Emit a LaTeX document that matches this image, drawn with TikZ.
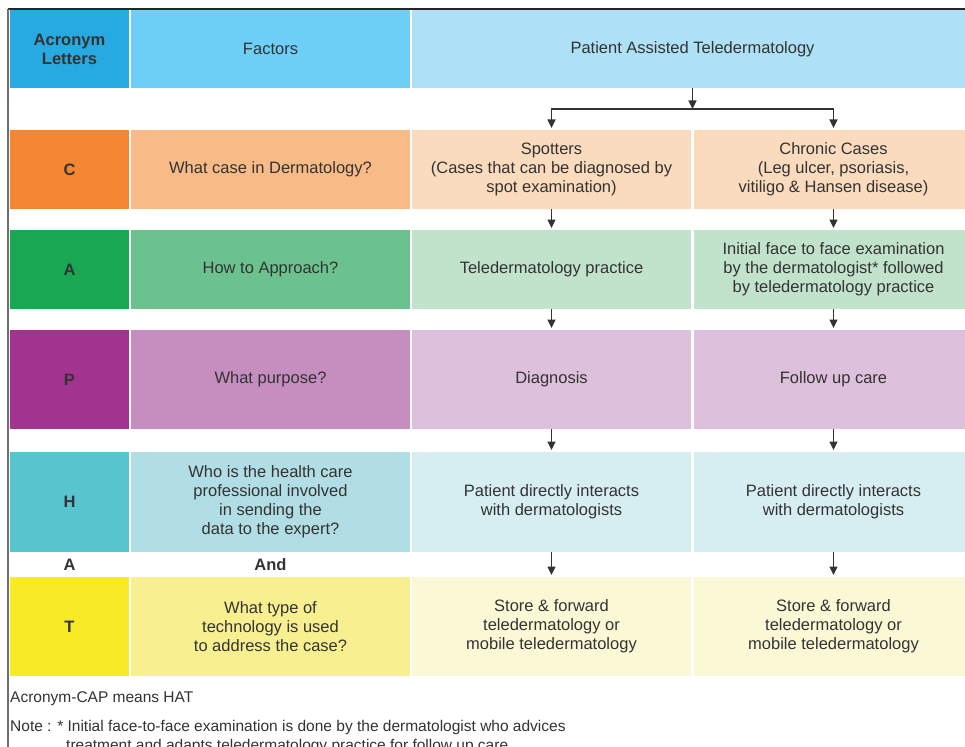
\documentclass[tikz,border=0pt]{standalone}
\usepackage{fontspec}
\setmainfont{Liberation Sans}
\usetikzlibrary{arrows.meta}

% header
\definecolor{hdA}{HTML}{27A9E1}
\definecolor{hdB}{HTML}{6DCFF6}
\definecolor{hdC}{HTML}{AEE0F6}
% C row
\definecolor{cA}{HTML}{F58634}
\definecolor{cB}{HTML}{F8BB87}
\definecolor{cC}{HTML}{FBDBBD}
% A row
\definecolor{aA}{HTML}{18A853}
\definecolor{aB}{HTML}{6CC28E}
\definecolor{aC}{HTML}{C2E3CB}
% P row
\definecolor{pA}{HTML}{A2338E}
\definecolor{pB}{HTML}{C58EBF}
\definecolor{pC}{HTML}{DDC0DB}
% H row
\definecolor{hA}{HTML}{58C4CE}
\definecolor{hB}{HTML}{B1DEE4}
\definecolor{hC}{HTML}{D6EEF2}
% T row
\definecolor{tA}{HTML}{F6EB24}
\definecolor{tB}{HTML}{F8F090}
\definecolor{tC}{HTML}{FBF9D5}

\definecolor{ink}{HTML}{333333}
\definecolor{frame}{HTML}{6E6E6E}

\tikzset{
  cell/.style={inner sep=0pt, outer sep=0pt, anchor=north west, align=center,
    text=ink, font=\fontsize{16.5}{19}\selectfont},
  lettercell/.style={cell, minimum width=119pt, font=\fontsize{16.5}{19}\selectfont\bfseries},
  factorcell/.style={cell, minimum width=279pt},
  casecell/.style={cell, minimum width=279pt},
  wide/.style={cell, minimum width=561pt},
  conn/.style={draw=ink, line width=1.1pt},
  arr/.style={conn, -{Triangle[width=8pt,length=8.5pt]}, shorten >=2pt},
  plain/.style={text=ink, inner sep=0pt, font=\fontsize{16.5}{19}\selectfont\bfseries},
  foot/.style={text=ink, inner sep=0pt, anchor=west, align=left, font=\fontsize{15.5}{19}\selectfont},
}

\begin{document}
\begin{tikzpicture}[x=1pt,y=-1pt]
\useasboundingbox (0,0) rectangle (965,746);
\clip (0,0) rectangle (965,746);
\fill[white] (0,0) rectangle (965,746);

% outer frame lines
\draw[line width=1.4pt, draw=black!85] (8,9) -- (966,9);
\draw[line width=1.6pt, draw=frame] (8,9) -- (8,747);

% header row
\node[lettercell, fill=hdA, minimum height=78pt] (hd1) at (10,10) {Acronym\\Letters};
\node[factorcell, fill=hdB, minimum height=78pt] (hd2) at (131,10) {Factors};
\node[wide, fill=hdC, minimum height=78pt] (hd3) at (412,10) {Patient Assisted Teledermatology};

% C row
\node[lettercell, fill=cA, minimum height=79pt] (c1) at (10,130) {C};
\node[factorcell, fill=cB, minimum height=79pt] (c2) at (131,130) {What case in Dermatology?};
\node[casecell, fill=cC, minimum height=79pt] (c3) at (412,130) {Spotters\\(Cases that can be diagnosed by\\spot examination)};
\node[casecell, fill=cC, minimum height=79pt] (c4) at (694,130) {Chronic Cases\\(Leg ulcer, psoriasis,\\vitiligo \& Hansen disease)};

% A row
\node[lettercell, fill=aA, minimum height=79pt] (a1) at (10,230) {A};
\node[factorcell, fill=aB, minimum height=79pt] (a2) at (131,230) {How to Approach?};
\node[casecell, fill=aC, minimum height=79pt] (a3) at (412,230) {Teledermatology practice};
\node[casecell, fill=aC, minimum height=79pt] (a4) at (694,230) {Initial face to face examination\\by the dermatologist* followed\\by teledermatology practice};

% P row
\node[lettercell, fill=pA, minimum height=99pt] (p1) at (10,330) {P};
\node[factorcell, fill=pB, minimum height=99pt] (p2) at (131,330) {What purpose?};
\node[casecell, fill=pC, minimum height=99pt] (p3) at (412,330) {Diagnosis};
\node[casecell, fill=pC, minimum height=99pt] (p4) at (694,330) {Follow up care};

% H row
\node[lettercell, fill=hA, minimum height=100pt] (h1) at (10,452) {H};
\node[factorcell, fill=hB, minimum height=100pt] (h2) at (131,452) {Who is the health care\\professional involved\\in sending the\\data to the expert?};
\node[casecell, fill=hC, minimum height=100pt] (h3) at (412,452) {Patient directly interacts\\with dermatologists};
\node[casecell, fill=hC, minimum height=100pt] (h4) at (694,452) {Patient directly interacts\\with dermatologists};

% "And" line
\node[plain] (and1) at (69.5,565) {A};
\node[plain] (and2) at (270.5,565) {And};

% T row
\node[lettercell, fill=tA, minimum height=99pt] (t1) at (10,577) {T};
\node[factorcell, fill=tB, minimum height=99pt] (t2) at (131,577) {What type of\\technology is used\\to address the case?};
\node[casecell, fill=tC, minimum height=99pt] (t3) at (412,577) {Store \& forward\\teledermatology or\\mobile teledermatology};
\node[casecell, fill=tC, minimum height=99pt] (t4) at (694,577) {Store \& forward\\teledermatology or\\mobile teledermatology};

% branching from the header
\coordinate (split) at (hd3.south |- 0,109);
\draw[arr, shorten >=0pt] (hd3.south) -- (split);
\draw[arr] (split) -| (c3.north);
\draw[arr] (split) -| (c4.north);

% downward flow in both case columns
\foreach \u/\v in {c3/a3, c4/a4, a3/p3, a4/p4, p3/h3, p4/h4, h3/t3, h4/t4}
  \draw[arr] (\u.south) -- (\v.north);

% footnotes
\node[foot] (cap) at (10,699) {Acronym-CAP means HAT};
\node[foot, anchor=north west] (note) at (10,720) {Note : * Initial face-to-face examination is done by the dermatologist who advices\\
\hspace*{56pt}treatment and adapts teledermatology practice for follow up care.};
\end{tikzpicture}
\end{document}
